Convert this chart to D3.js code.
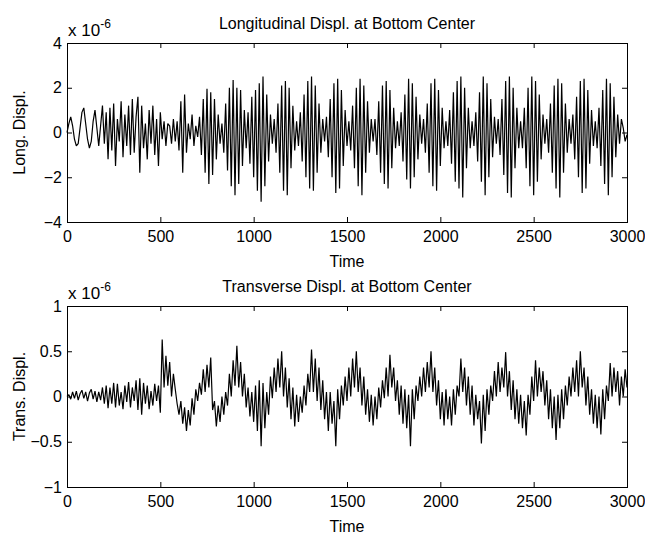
<!DOCTYPE html>
<html>
<head>
<meta charset="utf-8">
<script src="https://cdn.jsdelivr.net/npm/d3@7"></script>
<style>
  body { margin: 0; background: #fff; }
  text { font-family: "Liberation Sans", Arial, Helvetica, sans-serif; fill: #000; }
</style>
</head>
<body>
<svg id="fig" width="645" height="539"></svg>
<script>
// Sampling interval of the recorded displacements (time units per sample)
const sampleStep = 10;

// Longitudinal displacement at bottom center, in units of 1e-6
const longDispl = [
  0, 0.4, 0.7, 0.3, -0.3, -0.6, -0.5, 0.2, 0.9, 1.1, 0.4,
  -0.3, -0.7, -0.4, 0.5, 1.0, 0.2, -0.6, 0.3, 1.2, -0.5,
  0.9, -1.2, 1.1, -0.8, 1.3, -1.5, 0.6, -0.4, 1.4, -1.1,
  0.8, -0.6, 1.2, -1.0, 1.5, -0.9, 0.7, 1.6, -1.8, 1.2,
  -0.7, 0.4, -1.2, 1.0, -0.5, 1.2, -1.0, 0.6, -1.5, 0.9,
  -0.3, 0.5, -0.6, 0.4, 0.3, -0.5, 0.6, -0.4, 0.5, -0.8,
  1.4, -1.8, 1.7, -0.9, 0.4, -0.3, 0.8, -0.6, 0.3, -0.2,
  0.7, -1.0, 1.5, -1.8, 1.95, -2.3, 1.8, -1.9, 1.5, -1.2,
  0.8, -0.5, 0.4, -0.9, 1.3, -1.7, 2.0, -2.4, 2.35, -2.8,
  2.0, -2.3, 1.9, -1.5, 1.0, -0.7, 0.9, -1.4, 1.6, -2.0,
  1.9, -2.6, 2.2, -3.1, 2.5, -2.4, 1.7, -1.3, 0.8, -0.5,
  0.6, -0.9, 1.3, -1.8, 2.1, -2.6, 2.3, -2.8, 2.0, -1.6,
  1.2, -0.8, 0.5, -0.6, 0.9, -1.3, 1.7, -2.0, 2.3, -2.5,
  2.5, -2.6, 2.1, -1.8, 1.3, -0.9, 0.6, -0.4, 0.7, -1.1,
  1.5, -2.0, 2.2, -2.7, 2.4, -2.5, 1.9, -1.5, 1.0, -0.6,
  0.5, -0.8, 1.2, -1.6, 2.0, -2.4, 2.4, -2.8, 2.1, -1.8,
  1.4, -0.9, 0.6, -0.4, 0.6, -1.0, 1.4, -1.8, 2.1, -2.3,
  2.3, -2.5, 1.9, -1.6, 1.1, -0.7, 0.5, -0.6, 0.9, -1.3,
  1.7, -2.1, 2.4, -2.5, 2.2, -2.0, 1.6, -1.2, 0.8, -0.5,
  0.6, -0.9, 1.3, -1.8, 2.2, -2.4, 2.4, -2.6, 1.9, -1.5,
  1.1, -0.7, 0.5, -0.6, 1.0, -1.4, 1.8, -2.2, 2.3, -2.5,
  2.5, -2.9, 2.0, -1.6, 1.1, -0.7, 0.5, -0.6, 0.9, -1.3,
  1.8, -2.2, 2.5, -2.8, 2.2, -2.0, 1.5, -1.1, 0.7, -0.5,
  0.6, -1.0, 1.5, -1.9, 2.3, -2.7, 2.5, -2.9, 2.0, -1.6,
  1.1, -0.7, 0.5, -0.7, 1.1, -1.6, 2.0, -2.4, 2.5, -2.8,
  2.3, -2.2, 1.7, -1.2, 0.8, -0.5, 0.6, -0.9, 1.3, -1.8,
  2.1, -2.5, 2.4, -2.9, 2.2, -1.8, 1.3, -0.9, 0.6, -0.5,
  0.8, -1.2, 1.6, -2.0, 2.3, -2.7, 2.4, -2.5, 1.9, -1.4,
  1.0, -0.6, 0.5, -0.7, 1.1, -1.5, 1.9, -2.3, 2.4, -2.8,
  2.2, -2.0, 1.6, -1.1, 0.8, -0.5, 0.6, 0.2, -0.4, -0.1
];

// Transverse displacement at bottom center, in units of 1e-6
const transDispl = [
  0, 0.02, -0.03, 0.05, -0.02, 0.06, -0.04, 0.03, 0.07, -0.02, 0.05,
  -0.05, 0.04, 0.08, -0.03, 0.06, -0.06, 0.05, -0.04, 0.1, -0.08,
  0.12, -0.13, 0.1, -0.08, 0.15, -0.12, 0.14, -0.1, 0.05, -0.14,
  0.12, -0.06, 0.16, -0.12, 0.1, -0.05, 0.18, -0.15, 0.2, -0.2,
  0.15, -0.08, 0.12, -0.14, 0.06, -0.1, 0.14, -0.05, 0.12, -0.18,
  0.63, 0.1, 0.45, 0.12, 0.38, 0.0, 0.25, 0.08, -0.08, -0.2,
  -0.05, -0.3, -0.12, -0.38, -0.15, -0.32, -0.02, -0.2, 0.08, -0.05,
  0.15, 0.02, 0.3, 0.05, 0.35, 0.1, 0.43, -0.15, -0.05, -0.33,
  -0.1, -0.28, 0.0, -0.2, 0.05, -0.1, 0.25, 0.0, 0.4, 0.12,
  0.56, 0.1, 0.38, 0.0, 0.25, -0.12, 0.1, -0.22, 0.05, -0.28,
  0.12, -0.38, 0.18, -0.55, 0.15, -0.35, 0.05, -0.2, 0.22, -0.02,
  0.32, 0.05, 0.42, 0.1, 0.5, 0.0, 0.32, -0.12, 0.2, -0.25,
  0.1, -0.33, 0.02, -0.28, 0.0, -0.18, 0.12, -0.1, 0.25, 0.05,
  0.52, 0.05, 0.42, -0.05, 0.32, -0.15, 0.18, -0.25, 0.05, -0.38,
  0.05, -0.3, -0.05, -0.55, 0.08, -0.25, 0.12, -0.1, 0.22, -0.05,
  0.32, 0.0, 0.42, 0.1, 0.5, 0.05, 0.32, -0.1, 0.22, -0.2,
  0.08, -0.28, 0.02, -0.32, 0.0, -0.25, 0.1, -0.12, 0.18, -0.02,
  0.32, 0.0, 0.46, 0.1, 0.32, -0.05, 0.18, -0.2, 0.12, -0.3,
  0.08, -0.35, 0.02, -0.55, 0.08, -0.25, 0.12, -0.05, 0.22, 0.0,
  0.32, 0.05, 0.38, 0.1, 0.5, 0.05, 0.32, -0.1, 0.18, -0.25,
  0.05, -0.32, 0.08, -0.25, 0.0, -0.32, 0.08, -0.2, 0.12, 0.0,
  0.42, 0.05, 0.32, -0.1, 0.22, -0.2, 0.12, -0.32, 0.02, -0.25,
  -0.05, -0.52, 0.02, -0.38, 0.08, -0.2, 0.12, -0.05, 0.28, 0.0,
  0.38, 0.05, 0.32, 0.1, 0.49, 0.0, 0.28, -0.15, 0.18, -0.25,
  0.08, -0.3, 0.02, -0.35, -0.05, -0.43, 0.02, -0.2, 0.22, -0.05,
  0.4, 0.0, 0.32, 0.05, 0.28, -0.1, 0.18, -0.25, 0.08, -0.35,
  0.0, -0.48, 0.02, -0.35, 0.08, -0.25, 0.12, -0.1, 0.22, 0.0,
  0.32, 0.05, 0.4, 0.0, 0.5, 0.1, 0.32, -0.1, 0.22, -0.2,
  0.08, -0.3, 0.02, -0.35, 0.0, -0.42, 0.08, -0.25, 0.12, -0.05,
  0.37, 0.0, 0.32, 0.05, 0.28, -0.1, 0.22, 0.0, 0.3, 0.1
];

const timeTicks = [0, 500, 1000, 1500, 2000, 2500, 3000];
const longTicks = [-4, -2, 0, 2, 4];
const transTicks = [-1, -0.5, 0, 0.5, 1];

const titles = ["Longitudinal Displ. at Bottom Center", "Transverse Displ. at Bottom Center"];
const yLabels = ["Long. Displ.", "Trans. Displ."];
const xLabel = "Time";

// Panel geometry (pixels)
const left = 67, right = 627;
const panels = [
  { top: 43,  bottom: 222, values: longDispl,  ticks: longTicks,  domain: [-4, 4] },
  { top: 306, bottom: 487, values: transDispl, ticks: transTicks, domain: [-1, 1] }
];

const fontSize = 16;
const svg = d3.select("#fig");
svg.append("rect").attr("width", 645).attr("height", 539).attr("fill", "#fff");

const x = d3.scaleLinear().domain([0, 3000]).range([left, right]);

panels.forEach((p, i) => {
  const y = d3.scaleLinear().domain(p.domain).range([p.bottom, p.top]);
  const g = svg.append("g");

  // signal trace
  const line = d3.line()
    .x((d, k) => x(k * sampleStep))
    .y(d => y(d));
  g.append("path")
    .datum(p.values)
    .attr("fill", "none")
    .attr("stroke", "#000")
    .attr("stroke-width", 1.2)
    .attr("stroke-linejoin", "bevel")
    .attr("d", line);

  // axes with inward ticks on all four sides
  const tickLen = 5;
  const axB = g.append("g").attr("transform", `translate(0,${p.bottom})`)
    .call(d3.axisBottom(x).tickValues(timeTicks).tickSize(-tickLen).tickSizeOuter(0).tickPadding(9).tickFormat(d3.format("d")));
  const axT = g.append("g").attr("transform", `translate(0,${p.top})`)
    .call(d3.axisTop(x).tickValues(timeTicks).tickSize(-tickLen).tickSizeOuter(0).tickFormat(""));
  const axL = g.append("g").attr("transform", `translate(${left},0)`)
    .call(d3.axisLeft(y).tickValues(p.ticks).tickSize(-tickLen).tickSizeOuter(0).tickPadding(5).tickFormat(d => d3.format("")(d)));
  const axR = g.append("g").attr("transform", `translate(${right},0)`)
    .call(d3.axisRight(y).tickValues(p.ticks).tickSize(-tickLen).tickSizeOuter(0).tickFormat(""));

  [axB, axT, axL, axR].forEach(a => {
    a.select(".domain").remove();
    a.selectAll("line").attr("stroke", "#000");
    a.selectAll("text").attr("font-size", fontSize).attr("font-family", null).attr("fill", "#000");
  });

  // frame
  g.append("rect")
    .attr("x", left).attr("y", p.top)
    .attr("width", right - left).attr("height", p.bottom - p.top)
    .attr("fill", "none").attr("stroke", "#000").attr("stroke-width", 1)
    .attr("shape-rendering", "crispEdges");

  // exponent label
  const ex = g.append("text")
    .attr("x", left + 1).attr("y", p.top - 7)
    .attr("font-size", fontSize + 1);
  ex.append("tspan").text("x 10");
  ex.append("tspan").attr("dy", -8).attr("font-size", fontSize - 4).text("-6");

  // title
  g.append("text")
    .attr("x", (left + right) / 2).attr("y", p.top - 14)
    .attr("text-anchor", "middle").attr("font-size", fontSize)
    .text(titles[i]);

  // axis labels
  g.append("text")
    .attr("x", (left + right) / 2).attr("y", p.bottom + 45)
    .attr("text-anchor", "middle").attr("font-size", fontSize)
    .text(xLabel);
  g.append("text")
    .attr("transform", `translate(25,${(p.top + p.bottom) / 2}) rotate(-90)`)
    .attr("text-anchor", "middle").attr("font-size", fontSize)
    .text(yLabels[i]);
});
</script>
</body>
</html>
